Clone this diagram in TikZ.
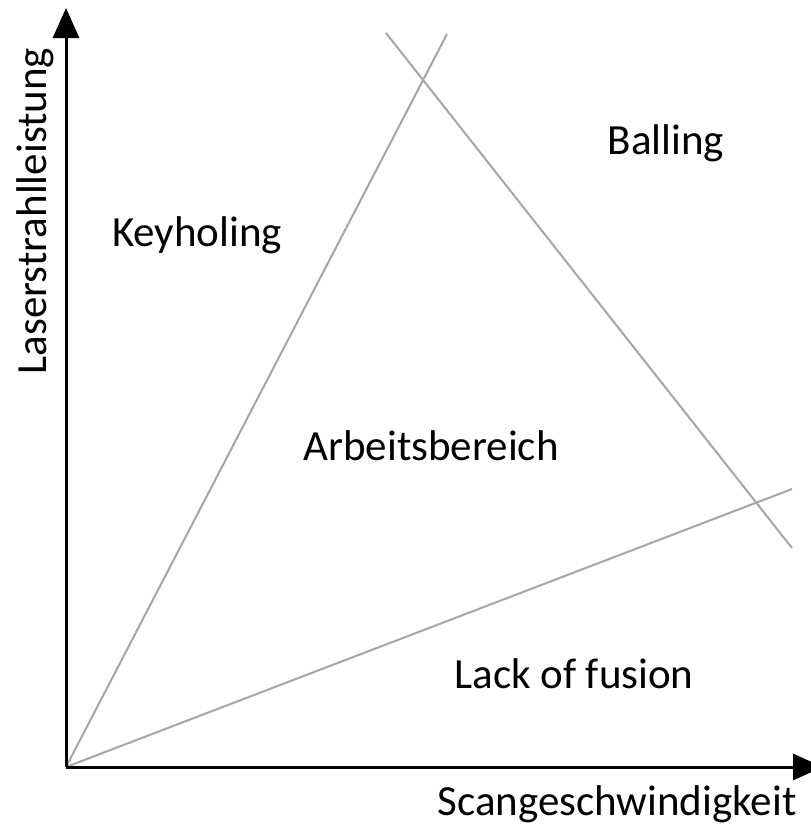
\documentclass[tikz,border=0pt]{standalone}
\usepackage{fontspec}
\setmainfont{Carlito}
\usetikzlibrary{arrows.meta}
\begin{document}
\begin{tikzpicture}[x=1pt, y=-1pt,
  axis/.style = {line width=3pt, -{Triangle[length=30pt, width=26pt]}},
  border/.style = {draw, gray!70, line width=2pt},
  region/.style = {font=\fontsize{43}{50}\selectfont}]
\useasboundingbox (0,0) rectangle (811,825);
\coordinate (o) at (66, 767);
\coordinate (ytip) at (66, 8);
\coordinate (xtip) at (823, 767);
\coordinate (k) at (447, 34);
\coordinate (b1) at (386, 33);
\coordinate (b2) at (792, 548);
\coordinate (l) at (792, 489);
\begin{scope}[every edge/.style = {border}]
\path (o) edge (k);
\path (b1) edge (b2);
\path (o) edge (l);
\end{scope}
\draw[axis] (o) -- (ytip);
\draw[axis] (o) -- (xtip);
\begin{scope}[every node/.style = {region}]
\node (balling) at (666, 143) {Balling};
\node (keyholing) at (197, 235) {Keyholing};
\node (arbeit) at (431, 446) {Arbeitsbereich};
\node (lack) at (574, 674) {Lack of fusion};
\node (xlabel) at (617, 804) {Scangeschwindigkeit};
\node[rotate=90] (ylabel) at (35, 211) {Laserstrahlleistung};
\end{scope}
\end{tikzpicture}
\end{document}
